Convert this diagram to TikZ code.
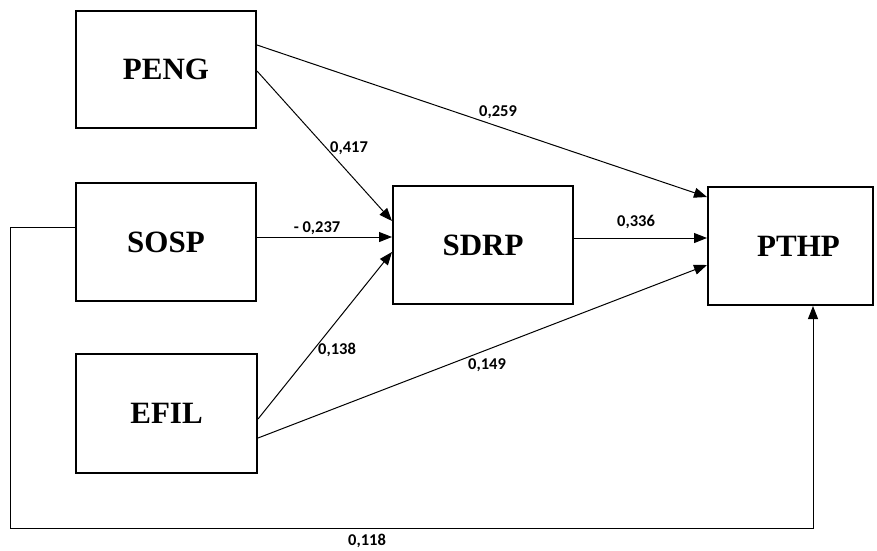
\documentclass[tikz,border=0pt]{standalone}
\usepackage{fontspec}
\setmainfont{Liberation Serif}
\newfontfamily\labfont{Carlito}
\usetikzlibrary{arrows.meta}
\begin{document}
\begin{tikzpicture}[x=1pt,y=-1pt,
  box/.style={draw=black,line width=2pt,minimum width=180pt,minimum height=117pt,inner sep=0pt,font=\fontsize{31}{31}\selectfont\bfseries},
  conn/.style={draw=black,line width=1pt,-{Triangle[length=13pt,width=10pt]}},
  coef/.style={font=\labfont\fontsize{16.5}{17}\selectfont\bfseries,inner sep=0pt}]
\useasboundingbox (0,0) rectangle (877,550);
\node[box] (peng) at (166,69.5) {\raisebox{-2pt}{PENG}};
\node[box,minimum height=118pt] (sosp) at (166,242) {\raisebox{-2pt}{SOSP}};
\node[box,minimum width=181pt,minimum height=119pt] (efil) at (166.5,413.5) {\raisebox{-2pt}{EFIL}};
\node[box,minimum height=118pt] (sdrp) at (483,245) {SDRP};
\node[box,minimum width=165pt,minimum height=118pt,label={[xshift=8pt,font=\fontsize{31}{31}\selectfont\bfseries]center:PTHP}] (pthp) at (790.5,246) {};
\coordinate (c1) at (10,227);
\coordinate (c2) at (10,528);
\coordinate (c3) at (813,528);
% arrows
\draw[conn] ([yshift=24.5pt]peng.east) -- ([yshift=49pt]pthp.west);
\draw[conn] ([yshift=-1.5pt]peng.east) -- ([yshift=24pt]sdrp.west);
\draw[conn] ([yshift=5pt]sosp.east) -- ([yshift=8pt]sdrp.west);
\draw[conn] ([yshift=-5.5pt]efil.east) -- ([yshift=-7pt]sdrp.west);
\draw[conn] ([yshift=-24.5pt]efil.east) -- ([yshift=-19pt]pthp.west);
\draw[conn] ([yshift=7pt]sdrp.east) -- ([yshift=8pt]pthp.west);
\draw[conn] ([yshift=15pt]sosp.west) -- (c1) -- (c2) -- (c3) -- ([xshift=22.5pt]pthp.south);
% coefficients
\node[coef] (l1) at (498,112) {0,259};
\node[coef] (l2) at (349,148) {0,417};
\node[coef] (l3) at (317,228) {- 0,237};
\node[coef] (l4) at (337,350) {0,138};
\node[coef] (l5) at (487,365) {0,149};
\node[coef] (l6) at (636,222) {0,336};
\node[coef] (l7) at (367,541) {0,118};
\end{tikzpicture}
\end{document}
